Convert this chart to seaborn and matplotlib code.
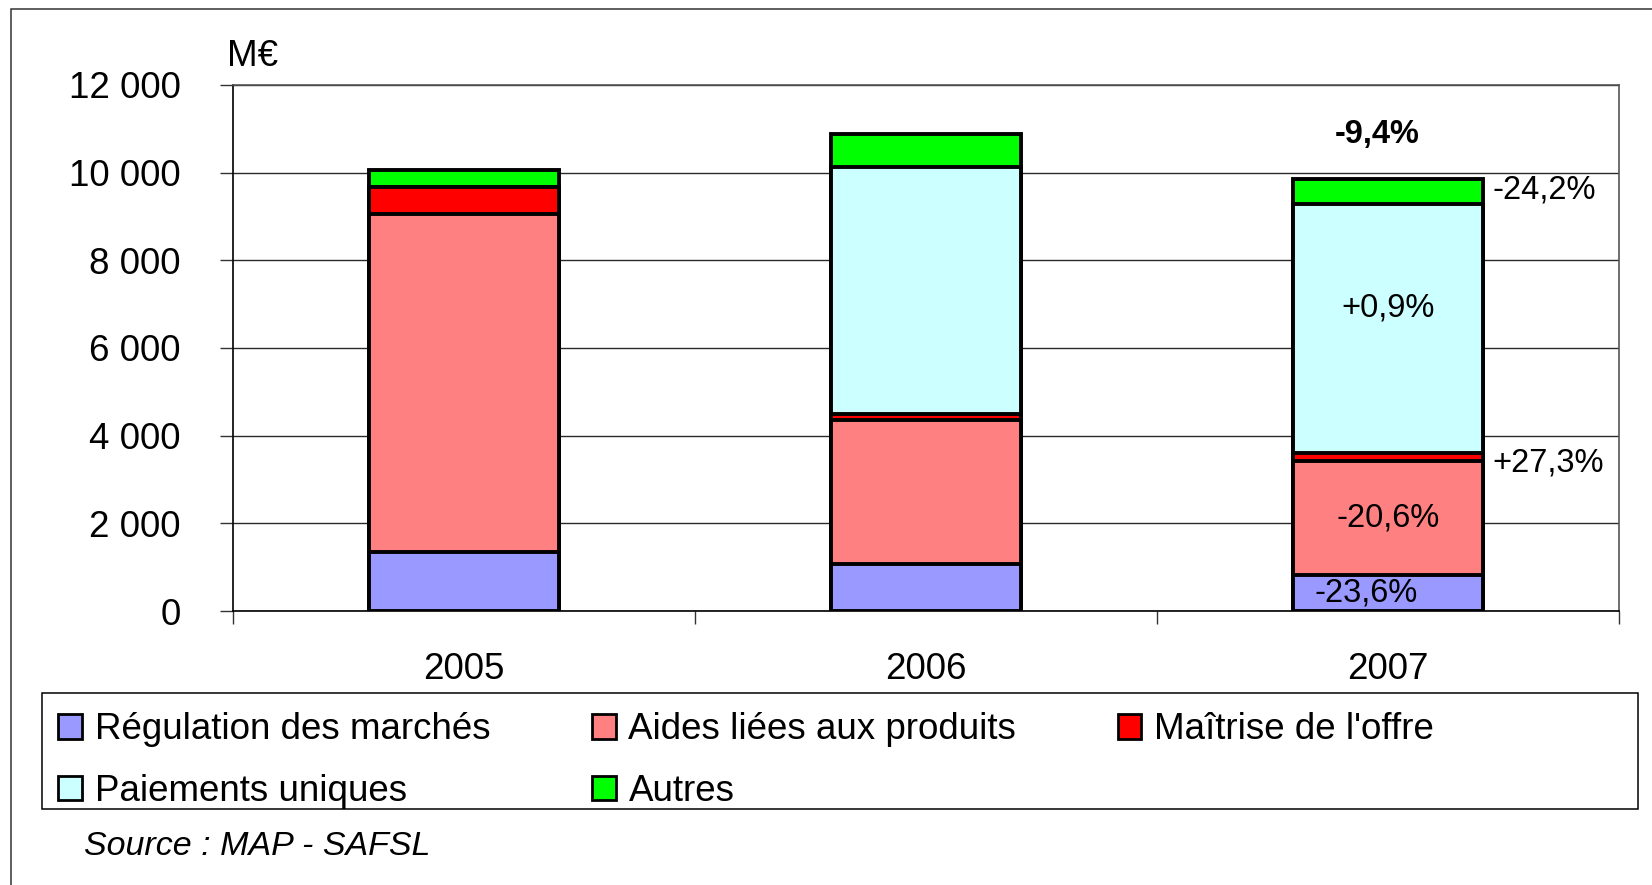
import numpy as np
import pandas as pd
import seaborn as sns
import matplotlib.pyplot as plt
from matplotlib.patches import Patch, Rectangle
from matplotlib.ticker import FixedLocator, FuncFormatter

years = ['2005', '2006', '2007']
regulation = [1350, 1070, 815]
aides = [7710, 3280, 2605]
maitrise = [610, 145, 185]
paiements = [0, 5640, 5690]
autres = [400, 740, 560]

series = ['Régulation des marchés', 'Aides liées aux produits', "Maîtrise de l'offre",
          'Paiements uniques', 'Autres']
colors = ['#9999FF', '#FF8080', '#FF0000', '#CCFFFF', '#00FF00']

# variations 2006 -> 2007, same order as series
variations = ['-23,6%', '-20,6%', '+27,3%', '+0,9%', '-24,2%']
total_variation = '-9,4%'

sns.set_theme(style='white')
plt.rcParams['font.family'] = ['Liberation Sans', 'DejaVu Sans']
plt.rcParams['text.color'] = 'black'
plt.rcParams['xtick.labelcolor'] = 'black'
plt.rcParams['ytick.labelcolor'] = 'black'

df = pd.DataFrame({'year': years})
for name, vals in zip(series, [regulation, aides, maitrise, paiements, autres]):
    df[name] = vals
cum = df[series].cumsum(axis=1)

fig = plt.figure(figsize=(16.52, 8.85), dpi=100)
ax = fig.add_axes([0.141, 0.3096, 0.839, 0.5944])

bar_w = 0.41
# stacked bars: draw cumulative totals from the top down
for i in reversed(range(len(series))):
    sns.barplot(x=df['year'], y=cum[series[i]], color=colors[i], saturation=1,
                width=bar_w, edgecolor='black', linewidth=2.8, ax=ax)

ax.set_xlim(-0.5, 2.5)
ax.set_ylim(0, 12000)
ax.set_yticks(np.arange(0, 12001, 2000))
ax.yaxis.set_major_formatter(FuncFormatter(lambda v, p: f'{int(v):,}'.replace(',', ' ')))
ax.set_xlabel('')
ax.set_ylabel('')
ax.set_axisbelow(True)
ax.yaxis.grid(True, color='#2a2a2a', lw=1.0)

ax.tick_params(axis='y', which='major', direction='out', length=9.4, width=1,
               color='#333333', pad=28, labelsize=26.5, left=True)
ax.tick_params(axis='x', which='major', length=0, pad=29.5, labelsize=26.5)
ax.xaxis.set_minor_locator(FixedLocator([-0.5, 0.5, 1.5, 2.5]))
ax.tick_params(axis='x', which='minor', direction='out', length=9.4, width=1,
               color='#333333', bottom=True)

for side in ['left', 'bottom']:
    ax.spines[side].set_color('black')
    ax.spines[side].set_linewidth(1.2)
for side in ['top', 'right']:
    ax.spines[side].set_color('#555555')
    ax.spines[side].set_linewidth(1.2)

# variation labels on the 2007 bar
x07 = 2
bottoms = cum.iloc[2].values - df[series].iloc[2].values
for i, lab in enumerate(variations):
    yc = bottoms[i] + df[series[i]].iloc[2] / 2
    if series[i] in ("Maîtrise de l'offre", 'Autres'):
        dy = 1 if series[i] == 'Autres' else -4
        ax.annotate(lab, xy=(x07 + bar_w / 2, yc), xytext=(7, dy), textcoords='offset points',
                    ha='left', va='center', fontsize=23.5)
    else:
        dx = -16 if i == 0 else 0
        dy = 14.5 if series[i] == 'Paiements uniques' else 0
        ax.annotate(lab, xy=(x07, yc), xytext=(dx, dy), textcoords='offset points',
                    ha='center', va='center', fontsize=23.5)
ax.annotate(total_variation, xy=(x07, cum.iloc[2].values[-1]), xytext=(-8, 32),
            textcoords='offset points', ha='center', va='center',
            fontsize=23.5, fontweight='bold')

fig.text(0.1375, 0.936, 'M€', fontsize=26.5, ha='left', va='center')

# legend, row by row like the original
handles = [Patch(facecolor=c, edgecolor='black', linewidth=2) for c in colors]
order = [0, 3, 1, 4, 2]
fig.legend([handles[k] for k in order], [series[k] for k in order], ncol=3,
           loc='upper left', bbox_to_anchor=(0.0351, 0.195), frameon=False,
           fontsize=26.5, handlelength=0.65, handleheight=0.65, handletextpad=0.35,
           columnspacing=2.75, labelspacing=0.72, borderpad=0, borderaxespad=0)
fig.patches.append(Rectangle((0.0254, 0.0859), 0.9661, 0.131, transform=fig.transFigure,
                             fill=False, edgecolor='black', lw=1.1))

fig.text(0.051, 0.0435, 'Source : MAP - SAFSL', fontsize=24.5, style='italic',
         ha='left', va='center')

# outer frame (only left and top show)
fig.patches.append(Rectangle((0.0067, -0.1), 1.2, 1.0898, transform=fig.transFigure,
                             fill=False, edgecolor='#333333', lw=1.1))

fig.savefig('out.png', dpi=100)
